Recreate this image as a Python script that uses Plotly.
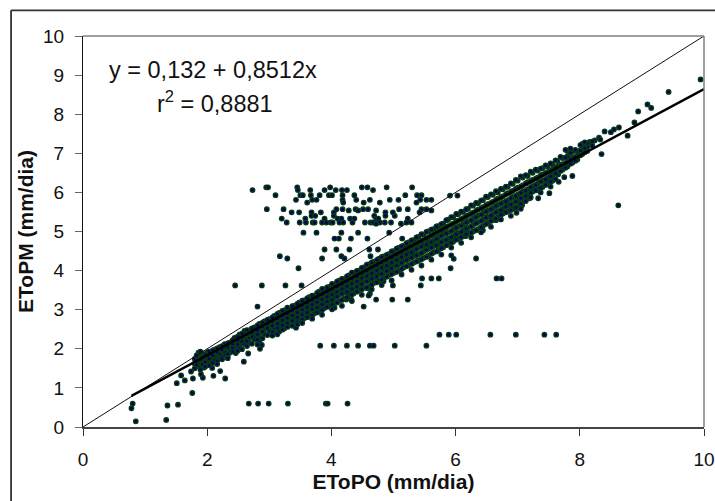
import plotly.graph_objects as go

FONT = "Liberation Sans, Arial, sans-serif"

# Scattered rows (y value, x values)
rows = [
    (6.13, [2.95,2.98,3.45,3.98,4.49,4.58,4.89,5.30]),
    (6.06, [2.73,3.46,3.66,3.89,4.07,4.17,4.25,4.67]),
    (5.93, [3.10,3.50,3.54,3.67,3.81,3.96,4.01,4.18,4.37,5.19,5.38,5.45]),
    (5.92, [5.91,6.03]),
    (5.81, [3.43,3.69,3.76,4.18,4.40,4.62,4.94,5.08,5.43,5.53,5.61]),
    (5.74, [3.61,4.19,4.52,4.78,5.37]),
    (5.57, [2.96,3.23,4.08,4.18,4.39,4.51,4.59,5.09,5.23,5.45,5.53]),
    (5.54, [4.28,4.43,4.72,5.61]),
    (5.49, [3.36,3.48,3.68,3.83,4.04,4.87,4.99,5.42]),
    (5.40, [3.68,3.74,4.04,4.69,4.87,5.02]),
    (5.33, [3.20,3.58,3.89,4.10,4.16,4.30,4.37,4.72,4.755,5.23]),
    (5.23, [3.28,3.49,3.59,3.70,3.73,3.85,3.92,3.99,4.02,4.13,4.19,4.34,4.54,4.63,4.67,4.78,4.86,4.96,5.21,5.29]),
    (5.20, [4.72,5.12]),
    (4.97, [3.55,3.76,4.16,4.43,4.93]),
    (4.82, [4.05,4.12,4.315,4.58,5.14]),
    (4.54, [3.89,4.08,4.29,4.61,4.75]),
    (4.37, [3.17,4.16,4.63]),
    (4.31, [3.29,3.85,4.21,6.33]),
    (4.39, [5.93]),
    (4.30, [5.97]),
    (4.06, [3.47,5.92]),
    (3.80, [5.46,5.61,5.73,6.66,6.74]),
    (3.62, [2.45,2.88,3.26,3.52,4.99,5.44]),
    (3.26, [4.24,4.32,4.72,4.98,5.23]),
    (3.08, [2.81,4.52]),
    (2.36, [5.74,5.89,6.01,6.56,6.97,7.43,7.62]),
    (2.08, [3.82,4.04,4.25,4.43,4.62,4.68,5.02,5.53]),
    (0.60, [0.80,2.67,2.82,2.99,3.30,3.91,3.94,4.26]),
]

# Individual outliers (x, y)
single_x = [0.78,0.85,1.36,1.34,1.53,1.76,1.51,1.58,1.64,1.77,1.74,1.93,1.90,2.10,2.21,2.29,1.95,2.08,2.04,
            2.59,2.66,2.85,2.88,2.46,2.33,4.05,4.62,4.27,3.43,4.60,4.84,4.58,
            9.945,9.43,9.09,9.15,8.94,8.88,8.77,8.63,8.55,8.50,8.40,8.35,8.62,8.31,8.24,8.16,8.11,8.33,
            7.88,7.75,7.66,7.65,7.51,7.33,7.19,7.07,6.98,6.65,6.44,6.16,6.03]
single_y = [0.48,0.145,0.55,0.18,0.57,0.87,1.12,1.32,1.19,1.24,1.42,1.26,1.35,1.31,1.43,1.24,1.52,1.51,1.58,
            1.67,1.88,2.00,2.10,1.89,1.80,3.05,3.41,3.34,2.54,3.36,3.73,3.55,
            8.89,8.57,8.25,8.16,8.07,7.79,7.45,7.66,7.61,7.54,7.56,6.98,5.67,7.40,7.33,7.29,7.25,7.35,
            6.42,6.39,6.27,6.46,5.98,5.85,5.85,5.67,5.48,5.29,5.03,4.88,4.82]

# Dense band (x value, y values)
band = [
    (1.80,[1.74,1.62,1.50]),(1.86,[1.90,1.78,1.68,1.56]),(1.92,[1.88,1.79,1.70,1.60]),(2.00,[1.90,1.80,1.72,1.62]),
    (2.06,[1.86,1.78,1.68]),(2.12,[1.98,1.88,1.80,1.71]),(2.20,[2.04,1.94,1.86,1.76]),(2.28,[2.12,2.02,1.92,1.84]),
    (2.36,[2.16,2.08,1.98,1.90]),(2.44,[2.28,2.18,2.08,1.98]),(2.52,[2.36,2.24,2.14,2.04]),(2.60,[2.46,2.34,2.24,2.12]),
    (2.68,[2.47,2.38,2.28,2.16]),(2.76,[2.55,2.44,2.34,2.24]),(2.84,[2.64,2.50,2.42,2.30,2.20]),(2.92,[2.70,2.60,2.50,2.38]),
    (3.00,[2.76,2.66,2.56,2.46]),(3.08,[2.84,2.72,2.62,2.50,2.40]),(3.16,[2.92,2.80,2.70,2.58,2.44]),(3.24,[2.98,2.86,2.76,2.64,2.52]),
    (3.32,[3.00,2.92,2.80,2.70,2.60]),(3.40,[3.10,3.00,2.90,2.78,2.66]),(3.48,[3.18,3.06,2.96,2.84,2.72]),(3.56,[3.24,3.14,3.02,2.92,2.78]),
    (3.64,[3.32,3.20,3.10,2.98,2.84]),(3.72,[3.36,3.26,3.14,3.02,2.90]),(3.80,[3.46,3.34,3.22,3.10,2.96]),(3.88,[3.52,3.42,3.30,3.18,3.04]),
    (3.96,[3.58,3.48,3.36,3.24,3.10]),(4.04,[3.64,3.54,3.42,3.30,3.16]),(4.12,[3.74,3.62,3.50,3.38,3.22]),(4.20,[3.78,3.68,3.56,3.44,3.28]),
    (4.28,[3.88,3.76,3.64,3.50,3.36]),(4.36,[3.94,3.82,3.70,3.56,3.42]),(4.44,[4.00,3.88,3.76,3.64,3.50]),(4.52,[4.08,3.96,3.84,3.70,3.56]),
    (4.60,[4.16,4.02,3.90,3.76,3.60]),(4.68,[4.22,4.10,3.96,3.82,3.68]),(4.76,[4.30,4.16,4.04,3.90,3.74]),(4.84,[4.36,4.24,4.10,3.96,3.80]),
    (4.92,[4.42,4.30,4.16,4.02,3.88]),(5.00,[4.50,4.36,4.24,4.10,3.94]),(5.08,[4.58,4.44,4.30,4.16,4.00]),(5.16,[4.64,4.50,4.38,4.24,4.08]),
    (5.24,[4.72,4.58,4.44,4.30,4.14]),(5.32,[4.78,4.64,4.50,4.36,4.20]),(5.40,[4.86,4.72,4.58,4.42,4.26]),(5.48,[4.92,4.78,4.64,4.48,4.32]),
    (5.56,[5.00,4.84,4.70,4.56,4.38]),(5.64,[5.06,4.92,4.76,4.62,4.46]),(5.72,[5.14,5.00,4.84,4.68,4.52]),(5.80,[5.20,5.06,4.92,4.76,4.60]),
    (5.88,[5.30,5.14,4.98,4.82,4.68]),(5.96,[5.36,5.20,5.04,4.88,4.74]),(6.04,[5.44,5.28,5.12,4.96,4.82]),(6.12,[5.50,5.34,5.18,5.02,4.88]),
    (6.20,[5.58,5.42,5.26,5.10,4.96]),(6.28,[5.66,5.48,5.32,5.16,5.00]),(6.36,[5.72,5.56,5.40,5.24,5.06]),(6.44,[5.80,5.62,5.46,5.30,5.14]),
    (6.52,[5.88,5.70,5.54,5.38,5.22]),(6.60,[5.94,5.76,5.60,5.44,5.30]),(6.68,[6.00,5.84,5.68,5.52,5.36]),(6.76,[6.08,5.90,5.74,5.58,5.46]),
    (6.84,[6.14,5.98,5.80,5.66,5.52]),(6.92,[6.22,6.04,5.88,5.72,5.58]),(7.00,[6.30,6.12,5.94,5.80,5.64]),(7.08,[6.38,6.18,6.02,5.88,5.74]),
    (7.16,[6.42,6.26,6.08,5.94]),(7.24,[6.50,6.32,6.16,6.02]),(7.32,[6.56,6.38,6.22,6.08]),(7.40,[6.62,6.46,6.30,6.14]),
    (7.48,[6.66,6.52,6.36,6.22]),(7.56,[6.72,6.58,6.44,6.30]),(7.64,[6.80,6.66,6.52]),(7.72,[6.88,6.72,6.58]),
    (7.80,[7.06,6.92,6.78,6.66]),(7.88,[7.04,6.88,6.76]),(7.96,[7.06,6.94,6.84]),(8.04,[7.24,7.10,6.98]),
    (8.12,[7.25,7.16,7.06]),(8.20,[7.30,7.20]),
]

# Second reading of the band, between the columns above
band2 = [
    (1.83,[1.83,1.66,1.59]),(1.89,[1.93,1.73,1.47]),(1.97,[1.84,1.66,1.55]),(2.03,[1.93,1.75,1.58]),
    (2.09,[1.96,1.83,1.64]),(2.16,[2.01,1.91,1.69,1.61]),(2.24,[2.07,1.97,1.79,1.73]),(2.33,[2.14,2.05,1.87,1.76]),
    (2.41,[2.22,2.11,2.02,1.93]),(2.49,[2.31,2.21,2.11,1.95]),(2.56,[2.39,2.29,2.19,1.99]),(2.64,[2.48,2.37,2.19,2.07]),
    (2.72,[2.52,2.41,2.31,2.13]),(2.81,[2.60,2.47,2.37,2.23,2.11]),(2.89,[2.67,2.57,2.44,2.27]),(2.97,[2.74,2.63,2.53,2.35]),
    (3.05,[2.80,2.69,2.59,2.43,2.34]),(3.13,[2.89,2.77,2.65,2.53,2.37]),(3.21,[2.97,2.84,2.73,2.60,2.49]),(3.29,[3.05,2.90,2.79,2.66,2.56]),
    (3.37,[3.09,2.97,2.86,2.72,2.59]),(3.45,[3.15,3.04,2.93,2.81,2.68,2.62]),(3.53,[3.23,3.11,3.00,2.87,2.75,2.66]),(3.61,[3.29,3.17,3.06,2.93,2.81]),
    (3.69,[3.36,3.24,3.13,3.01,2.86,2.77]),(3.77,[3.43,3.31,3.19,3.05,2.93]),(3.85,[3.53,3.38,3.27,3.13,2.99,2.87]),(3.93,[3.57,3.45,3.33,3.21,3.07]),
    (4.01,[3.66,3.52,3.39,3.25,3.13,3.01]),(4.09,[3.72,3.59,3.46,3.34,3.18]),(4.17,[3.79,3.66,3.53,3.41,3.25,3.10]),(4.25,[3.85,3.73,3.60,3.46,3.31]),
    (4.33,[3.95,3.79,3.67,3.53,3.39,3.22]),(4.41,[3.99,3.85,3.73,3.59,3.46]),(4.49,[4.07,3.93,3.81,3.66,3.52,3.38]),(4.57,[4.15,4.00,3.86,3.73,3.57]),
    (4.65,[4.21,4.07,3.93,3.79,3.64,3.52]),(4.73,[4.27,4.13,4.00,3.85,3.70]),(4.81,[4.35,4.21,4.07,3.92,3.77,3.63]),(4.89,[4.40,4.27,4.13,3.99,3.84]),
    (4.97,[4.49,4.33,4.21,4.06,3.91,3.75]),(5.05,[4.56,4.41,4.27,4.13,3.97]),(5.13,[4.62,4.47,4.35,4.20,4.04,3.90]),(5.21,[4.70,4.55,4.41,4.27,4.11]),
    (5.29,[4.77,4.62,4.47,4.33,4.17,4.02]),(5.37,[4.85,4.69,4.55,4.39,4.23]),(5.45,[4.93,4.75,4.61,4.45,4.29,4.13]),(5.53,[4.99,4.81,4.67,4.53,4.35]),
    (5.61,[5.05,4.89,4.73,4.59,4.43,4.28]),(5.69,[5.13,4.97,4.81,4.65,4.49]),(5.77,[5.19,5.03,4.89,4.73,4.57,4.41]),(5.85,[5.29,5.11,4.95,4.79,4.65]),
    (5.93,[5.37,5.17,5.01,4.85,4.71,4.59]),(6.01,[5.45,5.25,5.09,4.93,4.79]),(6.09,[5.51,5.31,5.15,4.99,4.85,4.71]),(6.17,[5.57,5.39,5.23,5.07,4.93]),
    (6.25,[5.67,5.45,5.29,5.13,4.97,4.85]),(6.33,[5.73,5.53,5.37,5.21,5.03]),(6.41,[5.79,5.59,5.43,5.27,5.11,4.98]),(6.49,[5.89,5.67,5.51,5.35,5.19]),
    (6.57,[5.95,5.73,5.57,5.41,5.27,5.12]),(6.65,[6.03,5.81,5.65,5.49,5.33]),(6.73,[6.09,5.87,5.71,5.55,5.43,5.31]),(6.81,[6.15,5.95,5.77,5.63,5.49]),
    (6.89,[6.23,6.01,5.85,5.69,5.55,5.40]),(6.97,[6.32,6.09,5.91,5.77,5.61]),(7.05,[6.41,6.15,5.99,5.85,5.71,5.58]),(7.13,[6.44,6.23,6.05,5.91,5.78]),
    (7.21,[6.53,6.29,6.13,5.99,5.87]),(7.29,[6.58,6.35,6.19,6.05]),(7.37,[6.61,6.43,6.27,6.11,6.00]),(7.45,[6.69,6.49,6.33,6.19]),
    (7.53,[6.74,6.55,6.41,6.27,6.15]),(7.61,[6.82,6.63,6.49,6.34]),(7.69,[6.91,6.69,6.55]),(7.77,[7.09,6.89,6.75,6.63]),
    (7.85,[7.12,7.01,6.85,6.73]),(7.93,[7.09,6.91,6.81]),(8.01,[7.21,7.07,6.95]),(8.08,[7.28,7.13,7.03]),
]

identity_x = [0, 10]
identity_y = [0, 10]
fit_x = [0.78, 10]
fit_y = [0.796, 8.644]
tick_vals_x = [0, 2, 4, 6, 8, 10]
tick_vals_y = [0, 1, 2, 3, 4, 5, 6, 7, 8, 9, 10]

xs, ys = [], []
for y, xvals in rows:
    xs += xvals
    ys += [y] * len(xvals)
xs += single_x
ys += single_y
for x, yvals in band + band2:
    xs += [x] * len(yvals)
    ys += yvals

fig = go.Figure()
fig.add_trace(go.Scatter(x=xs, y=ys, mode="markers", showlegend=False, cliponaxis=False,
                         marker=dict(size=4.4, color="#000066", line=dict(color="#0a3a12", width=1.4))))
fig.add_trace(go.Scatter(x=identity_x, y=identity_y, mode="lines", showlegend=False,
                         line=dict(color="#111111", width=1)))
fig.add_trace(go.Scatter(x=fit_x, y=fit_y, mode="lines", showlegend=False,
                         line=dict(color="#000000", width=2.4)))

W, H = 715, 501
L, R, T, B = 83, 704.5, 35.7, 426.7
pw, ph = R - L, B - T
px = lambda v: (v - L) / pw
py = lambda v: (B - v) / ph
frame = dict(type="line", xref="paper", yref="paper", line=dict(color="#333333", width=1.8))
grey = dict(type="line", xref="paper", yref="paper", line=dict(color="#808080", width=1.5))
fig.update_layout(
    width=W, height=H, paper_bgcolor="white", plot_bgcolor="white",
    margin=dict(l=L, r=W - R, t=T, b=H - B, autoexpand=False),
    font=dict(family=FONT, size=19, color="#111111"),
    xaxis=dict(range=[0, 10], tickvals=tick_vals_x, ticks="outside", ticklen=7, tickcolor="#333333", tickwidth=1,
               showgrid=False, zeroline=False, showline=True, linecolor="#444444", linewidth=2,
               ticklabelstandoff=7, tickfont=dict(size=19),
               title=dict(text="EToPO (mm/dia)", font=dict(family=FONT, size=21, color="#111111", weight="bold"), standoff=5)),
    yaxis=dict(range=[0, 10], tickvals=tick_vals_y, ticks="outside", ticklen=7, tickcolor="#666666", tickwidth=1,
               showgrid=False, zeroline=False, showline=True, linecolor="#111111", linewidth=1,
               ticklabelstandoff=7, tickfont=dict(size=19),
               title=dict(text="EToPM (mm/dia)", font=dict(family=FONT, size=21, color="#111111", weight="bold"), standoff=3)),
    shapes=[
        dict(grey, x0=0, x1=1, y0=1, y1=1),
        dict(grey, x0=1, x1=1, y0=0, y1=1),
        dict(frame, x0=px(11), x1=px(716), y0=py(10), y1=py(10)),
        dict(frame, x0=px(11), x1=px(11), y0=py(10), y1=py(502)),
    ],
    annotations=[
        dict(text="y = 0,132 + 0,8512x", xref="paper", yref="paper", x=px(107), y=py(70), xanchor="left", yanchor="middle",
             showarrow=False, font=dict(family=FONT, size=23.5, color="#111111")),
        dict(text="r<sup>2</sup> = 0,8881", xref="paper", yref="paper", x=px(155), y=py(102), xanchor="left", yanchor="middle",
             showarrow=False, font=dict(family=FONT, size=23.5, color="#111111")),
    ],
)
fig.write_html("out.html", post_script="document.body.style.margin='0';", config={"displayModeBar": False})
